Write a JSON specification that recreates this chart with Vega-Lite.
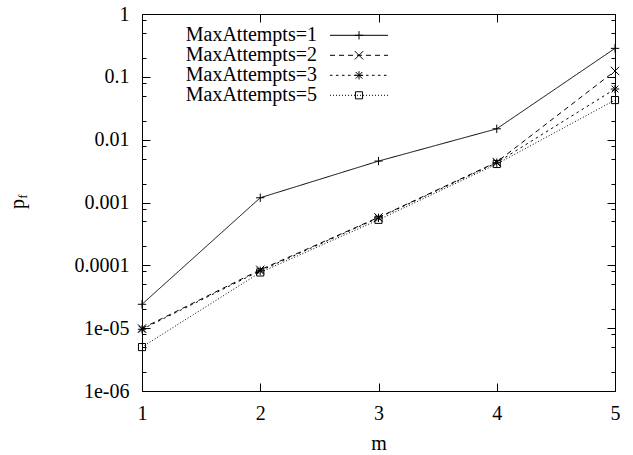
{
  "$schema": "https://vega.github.io/schema/vega-lite/v6.json",
  "width": 473,
  "height": 377,
  "autosize": "none",
  "padding": {"left": 142, "top": 14, "right": 18, "bottom": 64},
  "background": "white",
  "config": {
    "font": "Liberation Serif",
    "view": {"stroke": null},
    "axis": {
      "grid": false,
      "domainColor": "black",
      "domainWidth": 1,
      "tickColor": "black",
      "tickWidth": 1,
      "labelColor": "black",
      "labelFont": "Liberation Serif",
      "labelFontSize": 20,
      "labelFlush": false,
      "labelOverlap": false,
      "titleColor": "black",
      "titleFont": "Liberation Serif",
      "titleFontWeight": "normal",
      "titleFontSize": 20
    },
    "legend": {
      "labelFont": "Liberation Serif",
      "labelFontSize": 20,
      "labelLimit": 0
    }
  },
  "data": {
    "values": [
      {"m": 1, "p": 0.000024, "series": "MaxAttempts=1"},
      {"m": 2, "p": 0.00119, "series": "MaxAttempts=1"},
      {"m": 3, "p": 0.00456, "series": "MaxAttempts=1"},
      {"m": 4, "p": 0.0149, "series": "MaxAttempts=1"},
      {"m": 5, "p": 0.284, "series": "MaxAttempts=1"},
      {"m": 1, "p": 0.0000099, "series": "MaxAttempts=2"},
      {"m": 2, "p": 0.000085, "series": "MaxAttempts=2"},
      {"m": 3, "p": 0.00058, "series": "MaxAttempts=2"},
      {"m": 4, "p": 0.0044, "series": "MaxAttempts=2"},
      {"m": 5, "p": 0.124, "series": "MaxAttempts=2"},
      {"m": 1, "p": 0.0000096, "series": "MaxAttempts=3"},
      {"m": 2, "p": 0.000082, "series": "MaxAttempts=3"},
      {"m": 3, "p": 0.00057, "series": "MaxAttempts=3"},
      {"m": 4, "p": 0.0043, "series": "MaxAttempts=3"},
      {"m": 5, "p": 0.064, "series": "MaxAttempts=3"},
      {"m": 1, "p": 0.000005, "series": "MaxAttempts=5"},
      {"m": 2, "p": 0.000077, "series": "MaxAttempts=5"},
      {"m": 3, "p": 0.00053, "series": "MaxAttempts=5"},
      {"m": 4, "p": 0.0041, "series": "MaxAttempts=5"},
      {"m": 5, "p": 0.0427, "series": "MaxAttempts=5"}
    ]
  },
  "resolve": {"axis": {"x": "independent", "y": "independent"}},
  "layer": [
    {
      "mark": {"type": "line", "color": "black", "strokeWidth": 1},
      "encoding": {
        "x": {
          "field": "m",
          "type": "quantitative",
          "scale": {"domain": [1, 5], "nice": false, "zero": false},
          "axis": {
            "orient": "bottom",
            "values": [1, 2, 3, 4, 5],
            "tickSize": -8,
            "labelPadding": 20,
            "title": "m",
            "titleX": 236.5,
            "titleY": 58.5,
            "titleBaseline": "alphabetic"
          }
        },
        "y": {
          "field": "p",
          "type": "quantitative",
          "scale": {"type": "log", "domain": [0.000001, 1], "nice": false},
          "axis": {
            "orient": "left",
            "values": [0.000001, 0.000002, 0.000005, 0.000008, 0.00001, 0.00002, 0.00005, 0.00008, 0.0001, 0.0002, 0.0005, 0.0008, 0.001, 0.002, 0.005, 0.008, 0.01, 0.02, 0.05, 0.08, 0.1, 0.2, 0.5, 0.8, 1],
            "tickSize": {"condition": {"test": "abs(log(datum.value)/LN10 - round(log(datum.value)/LN10)) < 0.01", "value": -8}, "value": -4},
            "labelPadding": 21,
            "labelExpr": "abs(log(datum.value)/LN10 - round(log(datum.value)/LN10)) > 0.01 ? '' : ['1','0.1','0.01','0.001','0.0001','1e-05','1e-06'][-round(log(datum.value)/LN10)]",
            "title": "p",
            "titleAngle": -90,
            "titleX": -118.5,
            "titleY": 189.5,
            "titleAlign": "center",
            "titleBaseline": "alphabetic"
          }
        },
        "strokeDash": {
          "field": "series",
          "type": "nominal",
          "scale": {"range": [[1, 0], [5, 4], [2.5, 3.5], [1, 2]]},
          "legend": {
            "orient": "none",
            "legendX": 188,
            "legendY": 11.3,
            "title": null,
            "symbolType": "M-7.25,0H7.25",
            "symbolSize": 64,
            "symbolStrokeColor": "black",
            "symbolStrokeWidth": 1,
            "symbolOffset": 19,
            "labelAlign": "right",
            "labelOffset": -52,
            "labelColor": "black",
            "rowPadding": 0
          }
        }
      }
    },
    {
      "mark": {"type": "point", "filled": false, "color": "black", "strokeWidth": 1, "size": 70, "opacity": 1},
      "encoding": {
        "x": {
          "field": "m",
          "type": "quantitative",
          "axis": {
            "orient": "top",
            "values": [1, 2, 3, 4, 5],
            "tickSize": -8,
            "labels": false,
            "title": null
          }
        },
        "y": {
          "field": "p",
          "type": "quantitative",
          "axis": {
            "orient": "right",
            "values": [0.000001, 0.000002, 0.000005, 0.000008, 0.00001, 0.00002, 0.00005, 0.00008, 0.0001, 0.0002, 0.0005, 0.0008, 0.001, 0.002, 0.005, 0.008, 0.01, 0.02, 0.05, 0.08, 0.1, 0.2, 0.5, 0.8, 1],
            "tickSize": {"condition": {"test": "abs(log(datum.value)/LN10 - round(log(datum.value)/LN10)) < 0.01", "value": -8}, "value": -4},
            "labels": false,
            "title": "f",
            "titleFontSize": 12,
            "titleAngle": -90,
            "titleX": -589,
            "titleY": 182,
            "titleAlign": "center",
            "titleBaseline": "alphabetic"
          }
        },
        "shape": {
          "field": "series",
          "type": "nominal",
          "scale": {
            "domain": ["MaxAttempts=1", "MaxAttempts=2", "MaxAttempts=3", "MaxAttempts=5"],
            "range": [
              "M-1,0H1M0,-1V1",
              "M-1,-1L1,1M-1,1L1,-1",
              "M-1,0H1M0,-1V1M-0.8,-0.8L0.8,0.8M-0.8,0.8L0.8,-0.8",
              "M-0.85,-0.85H0.85V0.85H-0.85Z"
            ]
          },
          "legend": {
            "orient": "none",
            "legendX": 188,
            "legendY": 11.3,
            "title": null,
            "symbolSize": 70,
            "symbolStrokeColor": "black",
            "symbolFillColor": "white",
            "symbolStrokeWidth": 1,
            "symbolOffset": 19,
            "labelAlign": "right",
            "labelOffset": -52,
            "labelColor": "transparent",
            "rowPadding": 0
          }
        }
      }
    }
  ]
}
